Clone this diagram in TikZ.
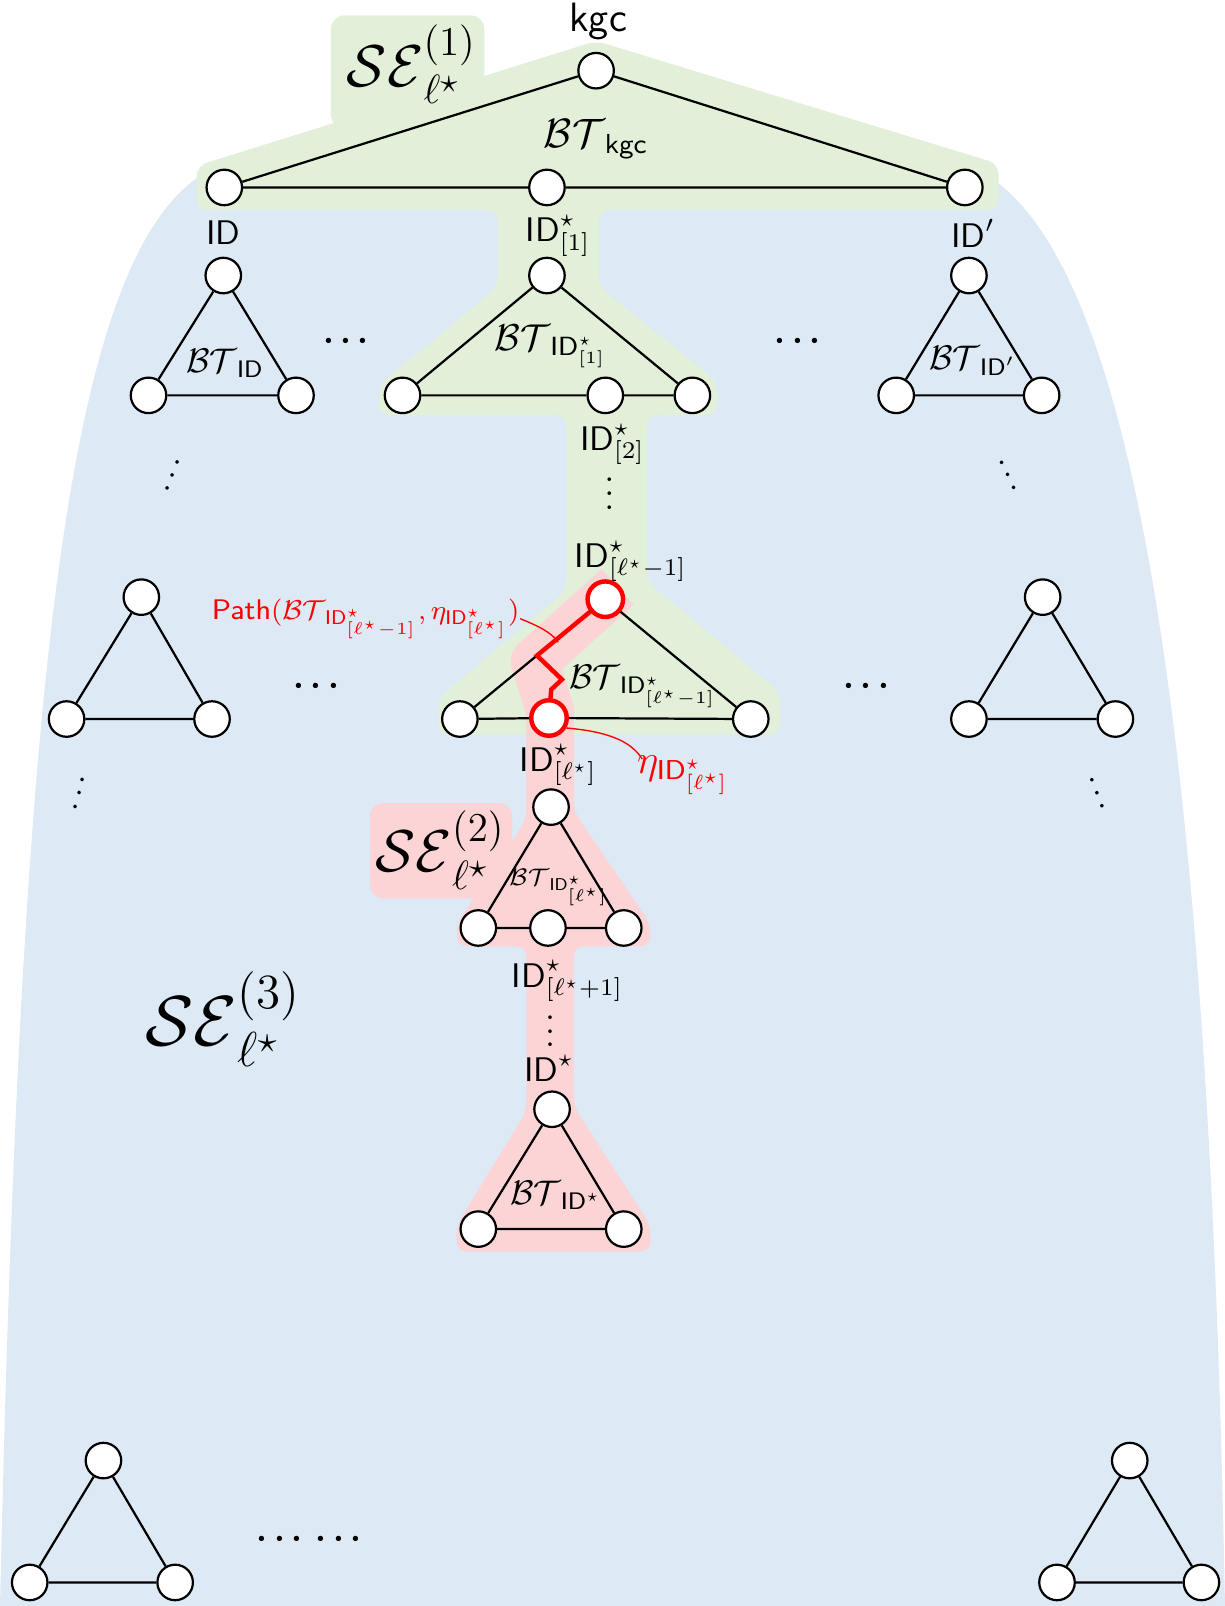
\documentclass[tikz,border=0pt]{standalone}
\usepackage{amsmath,amssymb}
\usetikzlibrary{calc}
\definecolor{bluebg}{RGB}{221,233,245}
\definecolor{greenbg}{RGB}{226,239,217}
\definecolor{pinkbg}{RGB}{252,212,213}
\definecolor{myred}{RGB}{255,0,0}
\begin{document}
\begin{tikzpicture}[x=0.3pt,y=-0.3pt,
  vtx/.style={circle,draw,fill=white,minimum size=10.4pt,inner sep=0pt,line width=0.65pt},
  rvtx/.style={vtx,draw=myred,line width=1.3pt},
  edge/.style={line width=0.65pt},
  lbl/.style={inner sep=0pt},
  dotlbl/.style={inner sep=0pt,font=\boldmath},
  rlbl/.style={inner sep=0pt,text=myred},
  thinred/.style={draw=myred,line width=0.4pt},
  redpath/.style={draw=myred,line width=1.3pt,line join=miter},
  ]
\useasboundingbox (0,0) rectangle (1196,1568);
% blue region
\fill[bluebg] (195,172) .. controls (60,262) and (20,700) .. (0,1568) -- (1196,1568) .. controls (1180,700) and (1105,262) .. (965,172) -- cycle;
% green region
\fill[greenbg,rounded corners=4pt] (323,15) rectangle (473,125);
\fill[greenbg,rounded corners=3pt] (582,40) -- (975,160) -- (975,205) -- (585,205) -- (585,280) -- (700,372) -- (700,405) -- (632,405) -- (632,568) -- (762,676) -- (762,717) -- (428,717) -- (428,682) -- (553,576) -- (553,405) -- (370,405) -- (370,376) -- (486,280) -- (486,205) -- (192,205) -- (192,162) -- cycle;
% pink region
\fill[pinkbg,rounded corners=4pt] (361,784) rectangle (500,877);
\draw[pinkbg,line width=14pt,line join=round] (603,573) -- (522,646) -- (537,694) -- (537,800);
\fill[pinkbg,rounded corners=3pt] (514,690) -- (514,800) -- (446,902) -- (446,924) -- (514,924) -- (514,1085) -- (446,1196) -- (446,1222) -- (635,1222) -- (635,1196) -- (560,1080) -- (560,924) -- (635,924) -- (635,902) -- (560,792) -- (560,690) -- cycle;

% top tree
\node[vtx] (k0) at (582,69) {};
\node[vtx] (a1) at (219,183) {};
\node[vtx] (a2) at (534,183) {};
\node[vtx] (a3) at (942,183) {};
\draw[edge] (k0) -- (a1) (k0) -- (a3) (a1) -- (a2) -- (a3);
\node[lbl] at (584,21) {\large\textsf{kgc}};
\node[lbl] at (582,136) {\fontsize{11.5}{13}\selectfont $\mathcal{BT}_{\textsf{kgc}}$};
\node[lbl] at (402,63) {\LARGE $\mathcal{SE}^{(1)}_{\ell^\star}$};

% second row
\node[vtx] (b1) at (218,269) {};
\node[vtx] (b2) at (145,386) {};
\node[vtx] (b3) at (289,386) {};
\draw[edge] (b1) -- (b2) -- (b3) -- (b1);
\node[lbl] at (218,227) {\textsf{ID}};
\node[lbl] at (220,355) {$\mathcal{BT}_{\textsf{ID}}$};

\node[vtx] (c1) at (534,269) {};
\node[vtx] (c2) at (393,386) {};
\node[vtx] (c3) at (591,386) {};
\node[vtx] (c4) at (676,386) {};
\draw[edge] (c1) -- (c2) -- (c3) -- (c4) -- (c1);
\node[lbl] at (545,230) {$\textsf{ID}^\star_{[1]}$};
\node[lbl] at (538,338) {\fontsize{11}{13}\selectfont $\mathcal{BT}_{\textsf{ID}^\star_{[1]}}$};

\node[vtx] (d1) at (946,269) {};
\node[vtx] (d2) at (875,386) {};
\node[vtx] (d3) at (1017,386) {};
\draw[edge] (d1) -- (d2) -- (d3) -- (d1);
\node[lbl] at (950,228) {$\textsf{ID}'$};
\node[lbl] at (950,352) {$\mathcal{BT}_{\textsf{ID}'}$};

\node[dotlbl] at (341,333) {$\cdots$};
\node[dotlbl] at (782,333) {$\cdots$};
\node[dotlbl,rotate=-20] at (172,455) {$\vdots$};
\node[dotlbl,rotate=25] at (980,455) {$\vdots$};
\node[lbl] at (598,434) {$\textsf{ID}^\star_{[2]}$};
\node[dotlbl] at (595,472) {$\vdots$};
\node[lbl] at (616,548) {$\textsf{ID}^\star_{[\ell^\star-1]}$};

% third row
\node[vtx] (e1) at (138,583) {};
\node[vtx] (e2) at (65,702) {};
\node[vtx] (e3) at (207,702) {};
\draw[edge] (e1) -- (e2) -- (e3) -- (e1);

\node[rvtx] (f1) at (591,585) {};
\node[vtx] (f2) at (449,702) {};
\node[rvtx] (f3) at (536,701) {};
\node[vtx] (f4) at (733,702) {};
\draw[edge] (f1) -- (f2) (f2) -- (f3) -- (f4) -- (f1);
\coordinate (r1) at ($(f1)!0.47!(f2)$);
\coordinate (r2) at ($(r1)+(24.4,23.4)$);
\coordinate (r3) at ($(r2)+(-10.5,9.8)$);
\draw[redpath] (f1) -- (r1) -- (r2) -- (r3) -- (f3);
\node[lbl] at (628,670) {$\mathcal{BT}_{\textsf{ID}^\star_{[\ell^\star-1]}}$};

\node[vtx] (g1) at (1018,583) {};
\node[vtx] (g2) at (946,702) {};
\node[vtx] (g3) at (1089,702) {};
\draw[edge] (g1) -- (g2) -- (g3) -- (g1);

\node[dotlbl] at (312,670) {$\cdots$};
\node[dotlbl] at (849,670) {$\cdots$};
\node[dotlbl,rotate=-15] at (80,765) {$\vdots$};
\node[dotlbl,rotate=20] at (1068,765) {$\vdots$};

% red annotations
\node[rlbl] (plbl) at (357,604) {\fontsize{8.3}{10}\selectfont\textsf{Path}$(\mathcal{BT}_{\textsf{ID}^\star_{[\ell^\star-1]}},\eta_{\textsf{ID}^\star_{[\ell^\star]}})$};
\coordinate (pend) at (545,627);
\draw[thinred] (plbl.east) .. controls (525,611) and (538,617) .. (pend);
\node[rlbl] (elbl) at (667,757) {\large $\eta_{\textsf{ID}^\star_{[\ell^\star]}}$};
\coordinate (eend) at (627,741);
\draw[thinred] (f3.-30) .. controls (590,714) and (615,722) .. (eend);

% fourth row
\node[lbl] at (545,747) {$\textsf{ID}^\star_{[\ell^\star]}$};
\node[vtx] (h1) at (538,788) {};
\node[vtx] (h2) at (467,906) {};
\node[vtx] (h3) at (535,906) {};
\node[vtx] (h4) at (609,906) {};
\draw[edge] (h1) -- (h2) -- (h3) -- (h4) -- (h1);
\node[lbl] at (546,866) {\scriptsize $\mathcal{BT}_{\textsf{ID}^\star_{[\ell^\star]}}$};
\node[lbl] at (430,830) {\LARGE $\mathcal{SE}^{(2)}_{\ell^\star}$};

\node[lbl] at (554,958) {$\textsf{ID}^\star_{[\ell^\star+1]}$};
\node[dotlbl] at (537,997) {$\vdots$};
\node[lbl] at (536,1043) {$\textsf{ID}^\star$};
\node[vtx] (i1) at (539,1083) {};
\node[vtx] (i2) at (467,1200) {};
\node[vtx] (i3) at (609,1200) {};
\draw[edge] (i1) -- (i2) -- (i3) -- (i1);
\node[lbl] at (543,1167) {$\mathcal{BT}_{\textsf{ID}^\star}$};

\node[lbl] at (218,995) {\fontsize{22}{26}\selectfont $\mathcal{SE}^{(3)}_{\ell^\star}$};

% bottom row
\node[vtx] (j1) at (101,1426) {};
\node[vtx] (j2) at (29,1545) {};
\node[vtx] (j3) at (171,1545) {};
\draw[edge] (j1) -- (j2) -- (j3) -- (j1);
\node[vtx] (m1) at (1103,1426) {};
\node[vtx] (m2) at (1032,1545) {};
\node[vtx] (m3) at (1173,1545) {};
\draw[edge] (m1) -- (m2) -- (m3) -- (m1);
\node[dotlbl] at (305,1503) {$\cdots\,\cdots$};
\end{tikzpicture}
\end{document}
